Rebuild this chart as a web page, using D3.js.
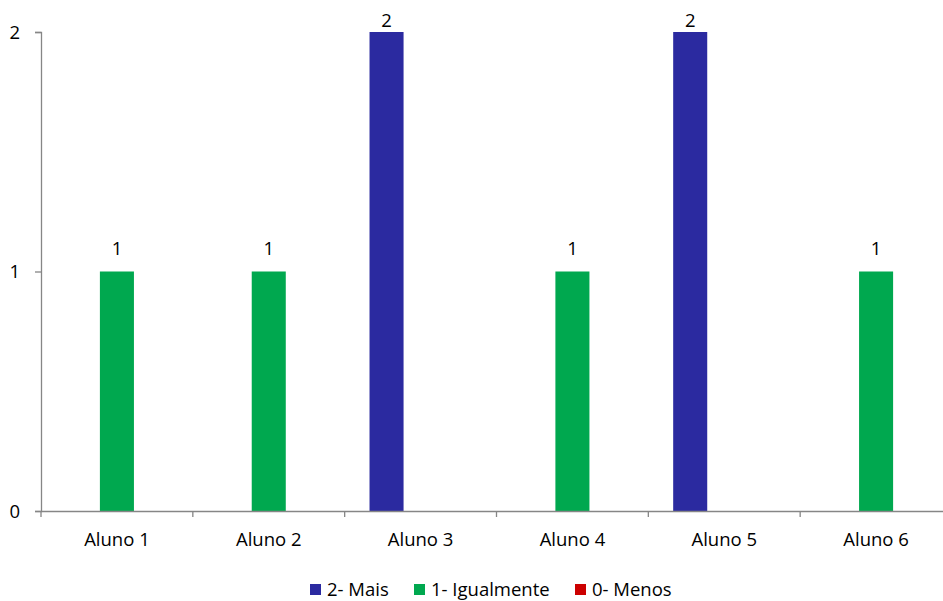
<!DOCTYPE html>
<html>
<head>
<meta charset="utf-8">
<script src="https://cdn.jsdelivr.net/npm/d3@7/dist/d3.min.js"></script>
<style>
  html, body { margin: 0; padding: 0; background: #fff; }
  svg text { font-family: "Open Sans", Carlito, Calibri, sans-serif; fill: #000; }
</style>
</head>
<body>
<svg id="chart" width="943" height="601"></svg>
<script>
// Responses per student
const categories = ["Aluno 1", "Aluno 2", "Aluno 3", "Aluno 4", "Aluno 5", "Aluno 6"];
const seriesNames = ["2- Mais", "1- Igualmente", "0- Menos"];
const seriesColors = ["#2B2AA0", "#00A84F", "#CC0000"];
const maisValues = [null, null, 2, null, 2, null];
const igualmenteValues = [1, 1, null, 1, null, 1];
const menosValues = [null, null, null, null, null, null];
const yTicks = [0, 1, 2];

const seriesValues = [maisValues, igualmenteValues, menosValues];

const svg = d3.select("#chart");
const width = 943, height = 601;
const plot = { left: 41, right: 952, top: 32, bottom: 511 };
const fontSize = 18.5;

const x = d3.scaleBand()
  .domain(categories)
  .range([plot.left, plot.right])
  .paddingInner(0)
  .paddingOuter(0);

const inner = d3.scaleBand()
  .domain(seriesNames)
  .range([0, x.bandwidth()])
  .paddingOuter(0.73)
  .paddingInner(0);

const y = d3.scaleLinear()
  .domain([0, 2])
  .range([plot.bottom, plot.top]);

const axisColor = "#868686";

// Bars
const rows = [];
seriesNames.forEach((s, si) => {
  categories.forEach((c, ci) => {
    const v = seriesValues[si][ci];
    if (v != null) rows.push({ series: s, si, cat: c, value: v });
  });
});

svg.append("g").selectAll("rect")
  .data(rows)
  .join("rect")
  .attr("x", d => x(d.cat) + inner(d.series))
  .attr("width", inner.bandwidth())
  .attr("y", d => y(d.value))
  .attr("height", d => y(0) - y(d.value))
  .attr("fill", d => seriesColors[d.si]);

// Value labels (kept inside the top edge of the chart area)
svg.append("g").selectAll("text")
  .data(rows)
  .join("text")
  .attr("x", d => x(d.cat) + inner(d.series) + inner.bandwidth() / 2)
  .attr("y", d => Math.max(y(d.value) - 17, 27))
  .attr("text-anchor", "middle")
  .attr("font-size", fontSize)
  .text(d => d.value);

// Y axis
const yAxis = svg.append("g")
  .attr("transform", `translate(${plot.left},0)`)
  .call(d3.axisLeft(y).tickValues(yTicks).tickFormat(d3.format("d")).tickSize(6).tickPadding(15));
yAxis.select(".domain").attr("stroke", axisColor).attr("stroke-width", 1.3);
yAxis.selectAll(".tick line").attr("stroke", axisColor).attr("stroke-width", 1.3);
yAxis.selectAll(".tick text").attr("font-size", fontSize).attr("font-family", null).attr("dy", "0.35em");

// X axis
const xAxis = svg.append("g")
  .attr("transform", `translate(0,${y(0)})`)
  .call(d3.axisBottom(x).tickSize(0).tickPadding(0));
xAxis.select(".domain").attr("stroke", axisColor).attr("stroke-width", 1.3);
xAxis.selectAll(".tick text")
  .attr("font-size", fontSize)
  .attr("font-family", null)
  .attr("dy", null)
  .attr("y", 35);

// Category boundary ticks
const boundaries = categories.map(c => x(c)).concat([x.range()[1]]);
xAxis.selectAll(".bound")
  .data(boundaries)
  .join("line")
  .attr("class", "bound")
  .attr("x1", d => d).attr("x2", d => d)
  .attr("y1", 0).attr("y2", 6)
  .attr("stroke", axisColor)
  .attr("stroke-width", 1.3);

// Legend
const legendX = [310, 414, 575];
const legend = svg.append("g").attr("transform", "translate(0,584)");
const items = legend.selectAll("g")
  .data(seriesNames)
  .join("g")
  .attr("transform", (d, i) => `translate(${legendX[i]},0)`);
items.append("rect")
  .attr("width", 11).attr("height", 11)
  .attr("fill", (d, i) => seriesColors[i]);
items.append("text")
  .attr("x", 17).attr("y", 12)
  .attr("font-size", fontSize)
  .text(d => d);
</script>
</body>
</html>
